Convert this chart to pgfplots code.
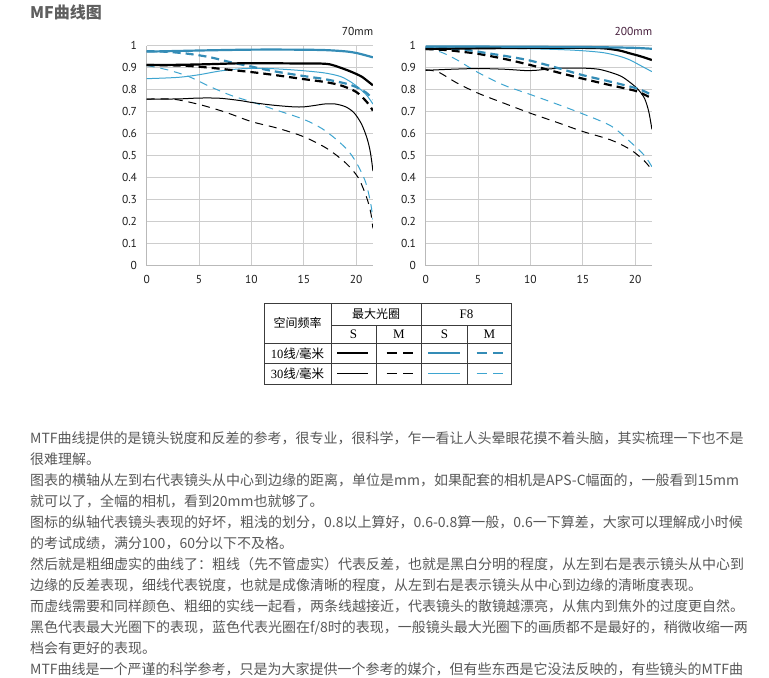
\documentclass[border=0pt]{standalone}
\usepackage{pgfplots}
\pgfplotsset{compat=1.18}
\usepackage{fontspec}
\setmainfont{PT Sans}
\newfontfamily\cjk{Noto Sans CJK SC}
\newfontfamily\tserif{Liberation Serif}

\definecolor{gridc}{RGB}{205,205,205}
\definecolor{axisc}{RGB}{185,185,185}
\definecolor{tickc}{RGB}{30,30,30}
\definecolor{bluek}{RGB}{52,140,182}
\definecolor{bluet}{RGB}{62,165,208}
\definecolor{txt}{RGB}{88,88,88}
\definecolor{ttl}{RGB}{95,95,95}
\definecolor{tbl}{RGB}{60,60,60}

\pgfplotsset{
  mtf/.style={
    scale only axis, width=226.2bp, height=220bp,
    xmin=0, xmax=21.6, ymin=0, ymax=1,
    axis lines=left,
    axis line style={-, draw=axisc, line width=0.9bp},
    xtick={0,5,10,15,20},
    xticklabels={0,5,10,15,20},
    ytick={0,0.1,0.2,0.3,0.4,0.5,0.6,0.7,0.8,0.9,1},
    yticklabels={0,0.1,0.2,0.3,0.4,0.5,0.6,0.7,0.8,0.9,1},
    grid=major, major grid style={draw=gridc, line width=0.8bp},
    major tick length=0pt,
    /pgf/number format/assume math mode=true,
    tick label style={font=\fontsize{11.5bp}{13bp}\selectfont, text=tickc, inner sep=0pt},
    xticklabel style={anchor=center, yshift=-13.6bp},
    yticklabel style={anchor=east, xshift=-9.5bp},
  },
  w10/.style={line width=2.2bp, smooth},
  w30/.style={line width=1bp, smooth},
  d10/.style={dash pattern=on 8bp off 5bp},
  d30/.style={dash pattern=on 8bp off 6bp},
}

\begin{document}
\begin{tikzpicture}[x=1bp, y=1bp]
\fill[white] (0,0) rectangle (769,678);

% ---- 70mm ----
\begin{axis}[mtf, at={(146.7bp,412.3bp)}, anchor=south west]
\addplot[black, w30, d30] coordinates {(0,0.757)(2.5,0.757)(5,0.733)(7.5,0.698)(10,0.655)(12.5,0.625)(15,0.586)(17.2,0.533)(19,0.467)(20.2,0.4)(21,0.31)(21.4,0.24)(21.6,0.17)};
\addplot[bluet, w30, d30] coordinates {(0,0.91)(2,0.89)(4,0.86)(6,0.815)(8,0.775)(10,0.745)(12,0.713)(15,0.665)(17,0.615)(19,0.535)(20,0.47)(20.9,0.38)(21.4,0.28)(21.6,0.21)};
\addplot[black, w30] coordinates {(0,0.757)(3,0.758)(5,0.762)(7,0.761)(9,0.75)(10,0.742)(12,0.73)(14,0.722)(15,0.722)(16,0.728)(17,0.735)(18,0.735)(19,0.722)(19.8,0.695)(20.5,0.645)(21,0.585)(21.3,0.53)(21.5,0.47)(21.6,0.43)};
\addplot[bluet, w30] coordinates {(0,0.85)(3,0.856)(5,0.868)(7,0.885)(9,0.895)(11,0.897)(13,0.893)(15,0.886)(17,0.876)(18.5,0.86)(19.5,0.835)(20.2,0.81)(21,0.775)(21.6,0.735)};
\addplot[black, w10, d10] coordinates {(0,0.912)(2,0.911)(4,0.908)(6,0.9)(8,0.89)(10,0.88)(12,0.868)(15,0.848)(17,0.835)(18.5,0.82)(20,0.79)(21,0.745)(21.6,0.705)};
\addplot[bluek, w10, d10] coordinates {(0,0.975)(2,0.972)(4,0.963)(6,0.948)(8,0.925)(10,0.905)(12,0.885)(15,0.862)(17,0.848)(19,0.828)(20,0.812)(21,0.785)(21.6,0.755)};
\addplot[black, w10] coordinates {(0,0.912)(3,0.913)(6,0.916)(9,0.92)(12,0.92)(15,0.919)(16.5,0.919)(17.5,0.915)(18.5,0.9)(19.5,0.882)(20.5,0.86)(21.2,0.835)(21.6,0.82)};
\addplot[bluek, w10] coordinates {(0,0.973)(3,0.976)(6,0.979)(10,0.982)(14,0.982)(17,0.98)(19,0.974)(20,0.967)(21,0.955)(21.6,0.947)};
\end{axis}

% ---- 200mm ----
\begin{axis}[mtf, at={(425.7bp,412.3bp)}, anchor=south west]
\addplot[black, w30, d30] coordinates {(0,0.89)(1.2,0.88)(3,0.83)(5,0.784)(7.5,0.738)(10,0.693)(12.5,0.652)(15,0.61)(17.7,0.571)(19.6,0.526)(20.9,0.475)(21.6,0.435)};
\addplot[bluet, w30, d30] coordinates {(0,0.99)(1.5,0.97)(3,0.935)(5,0.878)(7.5,0.82)(10,0.778)(12.5,0.735)(15,0.69)(17.7,0.635)(19.6,0.56)(20.9,0.5)(21.6,0.45)};
\addplot[black, w30] coordinates {(0,0.888)(2.5,0.893)(5,0.896)(7.5,0.893)(9.5,0.887)(10.5,0.888)(11.5,0.893)(13,0.898)(15,0.898)(16.5,0.893)(17.7,0.878)(18.7,0.86)(19.6,0.83)(20.3,0.8)(20.9,0.76)(21.3,0.7)(21.6,0.62)};
\addplot[bluet, w30] coordinates {(0,0.99)(5,0.99)(10,0.986)(13,0.982)(15,0.977)(17,0.968)(18.5,0.952)(19.5,0.935)(20.5,0.91)(21.6,0.882)};
\addplot[black, w10, d10] coordinates {(0,0.985)(2,0.98)(3.5,0.972)(5,0.963)(7.5,0.94)(10,0.912)(12.5,0.88)(15,0.85)(17.5,0.822)(20,0.795)(21,0.775)(21.6,0.76)};
\addplot[bluek, w10, d10] coordinates {(0,0.99)(2,0.988)(4,0.98)(6,0.965)(8,0.95)(10,0.932)(12.5,0.9)(15,0.866)(17.5,0.838)(20,0.808)(21,0.79)(21.6,0.775)};
\addplot[black, w10] coordinates {(0,0.985)(5,0.988)(10,0.99)(15,0.99)(17,0.988)(18.5,0.978)(19.5,0.965)(20.5,0.952)(21.6,0.935)};
\addplot[bluek, w10] coordinates {(0,0.996)(5,0.996)(10,0.995)(15,0.994)(18,0.992)(20,0.99)(21.6,0.986)};
\end{axis}

% ---- titles ----
\node[anchor=west, inner sep=0, text=ttl, font=\cjk\bfseries\fontsize{16bp}{18bp}\selectfont] at (30,666) {MF曲线图};
\node[anchor=east, inner sep=0, text=tickc, font=\fontsize{11.5bp}{13bp}\selectfont] at (373.3,646.3) {70mm};
\node[anchor=east, inner sep=0, text={rgb,255:red,70;green,30;blue,60}, font=\fontsize{11.5bp}{13bp}\selectfont] at (652.3,646.3) {200mm};

% ---- legend table ----
\begin{scope}[draw=tbl, line width=0.8bp]
\draw (264,293.7) rectangle (511,374.7);
\draw (331,353) -- (511,353);
\draw (264,334.7) -- (511,334.7);
\draw (264,314.7) -- (511,314.7);
\draw (331,293.7) -- (331,374.7);
\draw (421.7,293.7) -- (421.7,374.7);
\draw (376,293.7) -- (376,353);
\draw (467.3,293.7) -- (467.3,353);
\end{scope}
\begin{scope}[every node/.style={inner sep=0, text=black}]
\node[font=\cjk\fontsize{12bp}{14bp}\selectfont] at (297.5,354.7) {空间频率};
\node[font=\cjk\fontsize{12bp}{14bp}\selectfont] at (376,363.9) {最大光圈};
\node[font=\tserif\fontsize{13bp}{15bp}\selectfont] at (466.5,363.9) {F8};
\node[font=\tserif\fontsize{13bp}{15bp}\selectfont] at (353.5,343.9) {S};
\node[font=\tserif\fontsize{13bp}{15bp}\selectfont] at (398.8,343.9) {M};
\node[font=\tserif\fontsize{13bp}{15bp}\selectfont] at (444.5,343.9) {S};
\node[font=\tserif\fontsize{13bp}{15bp}\selectfont] at (489.5,343.9) {M};
\node[font=\fontsize{12.5bp}{14bp}\selectfont] at (297.5,324.7) {{\tserif 10}{\cjk 线}{\tserif /}{\cjk 毫米}};
\node[font=\fontsize{12.5bp}{14bp}\selectfont] at (297.5,304.2) {{\tserif 30}{\cjk 线}{\tserif /}{\cjk 毫米}};
\end{scope}
\draw[black, line width=2.2bp] (337.3,324.7) -- (368.3,324.7);
\draw[black, line width=2.2bp, dash pattern=on 10bp off 6.7bp] (386.7,324.7) -- (413.3,324.7);
\draw[bluek, line width=2.2bp] (428,324.7) -- (460,324.7);
\draw[bluek, line width=2.2bp, dash pattern=on 10bp off 6.7bp] (476.7,324.7) -- (503.3,324.7);
\draw[black, line width=1bp] (337.3,304.2) -- (368.3,304.2);
\draw[black, line width=1bp, dash pattern=on 10bp off 6.7bp] (386.7,304.2) -- (413.3,304.2);
\draw[bluet, line width=1.1bp] (428,304.2) -- (460,304.2);
\draw[bluet, line width=1.1bp, dash pattern=on 10bp off 6.7bp] (476.7,304.2) -- (503.3,304.2);

% ---- text ----
\begin{scope}[every node/.style={anchor=west, inner sep=0, text=txt, font=\cjk\fontsize{14bp}{16bp}\selectfont}]
\node at (30,239.5) {MTF曲线提供的是镜头锐度和反差的参考，很专业，很科学，乍一看让人头晕眼花摸不着头脑，其实梳理一下也不是};
\node at (30,218.5) {很难理解。};
\node at (30,197.5) {图表的横轴从左到右代表镜头从中心到边缘的距离，单位是mm，如果配套的相机是APS-C幅面的，一般看到15mm};
\node at (30,176.5) {就可以了，全幅的相机，看到20mm也就够了。};
\node at (30,155.5) {图标的纵轴代表镜头表现的好坏，粗浅的划分，0.8以上算好，0.6-0.8算一般，0.6一下算差，大家可以理解成小时候};
\node at (30,134.5) {的考试成绩，满分100，60分以下不及格。};
\node at (30,113.5) {然后就是粗细虚实的曲线了：粗线（先不管虚实）代表反差，也就是黑白分明的程度，从左到右是表示镜头从中心到};
\node at (30,92.5) {边缘的反差表现，细线代表锐度，也就是成像清晰的程度，从左到右是表示镜头从中心到边缘的清晰度表现。};
\node at (30,71.5) {而虚线需要和同样颜色、粗细的实线一起看，两条线越接近，代表镜头的散镜越漂亮，从焦内到焦外的过度更自然。};
\node at (30,50.5) {黑色代表最大光圈下的表现，蓝色代表光圈在f/8时的表现，一般镜头最大光圈下的画质都不是最好的，稍微收缩一两};
\node at (30,29.5) {档会有更好的表现。};
\node at (30,8.5) {MTF曲线是一个严谨的科学参考，只是为大家提供一个参考的媒介，但有些东西是它没法反映的，有些镜头的MTF曲};
\end{scope}

\pgfresetboundingbox
\path[use as bounding box] (0,0) rectangle (769,678);
\end{tikzpicture}
\end{document}
